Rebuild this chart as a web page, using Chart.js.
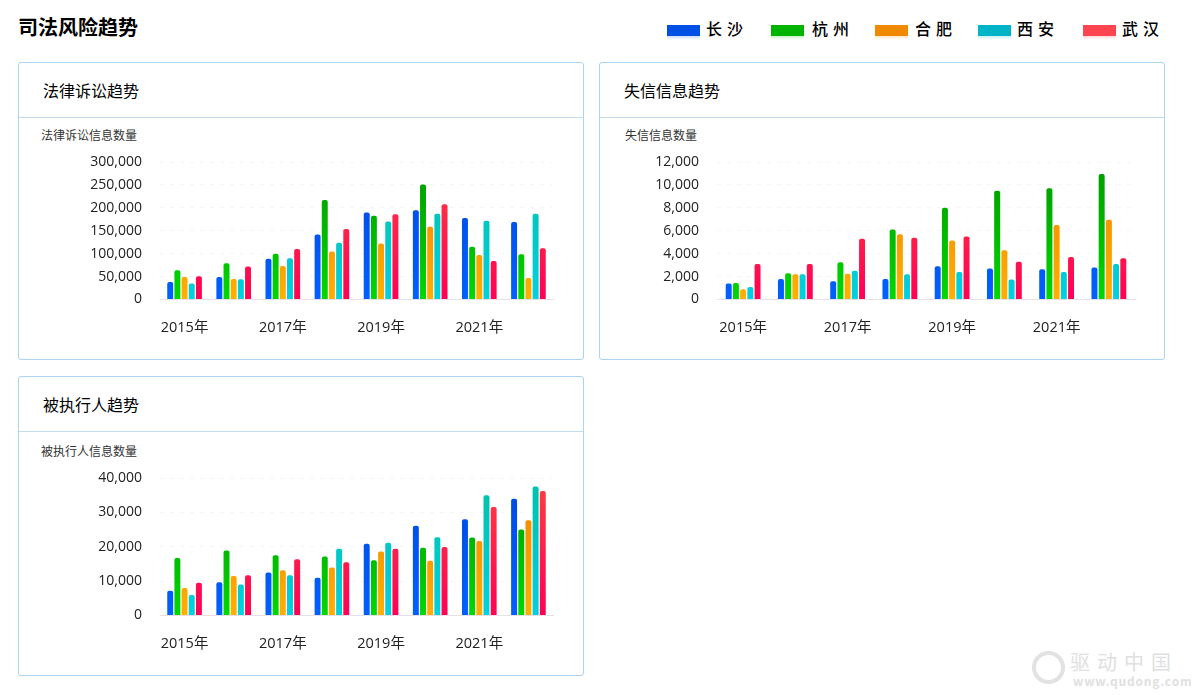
<!DOCTYPE html>
<html>
<head>
<meta charset="utf-8">
<script src="https://cdn.jsdelivr.net/npm/chart.js@4"></script>
<style>
  body { margin: 0; background: #fff; font-family: "Noto Sans CJK SC", sans-serif; }
  #page { position: relative; width: 1193px; height: 695px; overflow: hidden; }
  h1 { position: absolute; left: 18px; top: 13px; margin: 0; font-size: 20px; line-height: 28px; font-weight: 700; color: #000; }
  .card { position: absolute; width: 566px; box-sizing: border-box; border: 1px solid #a9d5f2; border-radius: 3px; }
  .card h2 { margin: 0; height: 54px; line-height: 54px; padding-left: 24px; font-size: 16px; font-weight: 400; color: #000; border-bottom: 1px solid #c3dcec; box-sizing: content-box; }
  .card .unit { position: absolute; top: 64px; font-size: 12px; line-height: 16px; color: #333; }
  .card canvas { position: absolute; left: 0; top: 55px; }
  .key { position: absolute; top: 18px; font-size: 16px; line-height: 20px; letter-spacing: 5px; font-weight: 500; color: #000; white-space: nowrap; }
  .swatch { position: absolute; top: 25px; width: 33px; height: 15px; }
  #mark { position: absolute; left: 1030px; top: 648px; width: 163px; height: 47px; color: #e0e0e0; }
  #mark b { position: absolute; left: 40px; top: 3px; font-size: 20px; font-weight: 400; line-height: 22px; letter-spacing: 7px; white-space: nowrap; }
  #mark span { position: absolute; left: 43px; top: 26px; font-size: 12px; font-weight: 700; line-height: 14px; letter-spacing: 0.8px; white-space: nowrap; }
  #mark i { position: absolute; left: 2px; top: 3px; width: 25px; height: 25px; border: 4px solid #e2e2e2; border-radius: 50%; }
</style>
</head>
<body>
<div id="page">
  <h1>司法风险趋势</h1>
  <div id="legend"></div>
  <div class="card" style="left:18px;top:62px;height:298px">
    <h2>法律诉讼趋势</h2>
    <div class="unit" style="left:22px">法律诉讼信息数量</div>
    <canvas id="lawsuit-chart"></canvas>
  </div>
  <div class="card" style="left:599px;top:62px;height:298px">
    <h2>失信信息趋势</h2>
    <div class="unit" style="left:25px">失信信息数量</div>
    <canvas id="dishonest-chart"></canvas>
  </div>
  <div class="card" style="left:18px;top:376px;height:300px">
    <h2>被执行人趋势</h2>
    <div class="unit" style="left:22px;top:66px">被执行人信息数量</div>
    <canvas id="executed-chart"></canvas>
  </div>
  <div id="mark"><i></i><b>驱动中国</b><span>www.qudong.com</span></div>
</div>
<script>
const years = ["2015年", "2016年", "2017年", "2018年", "2019年", "2020年", "2021年", "2022年"];
const cities = ["长沙", "杭州", "合肥", "西安", "武汉"];

// lawsuit counts, one list per city
const lawsuitChangsha = [38000, 49000, 89000, 142000, 190000, 195000, 178000, 169000];
const lawsuitHangzhou = [64000, 79000, 100000, 217000, 183000, 251000, 115000, 99000];
const lawsuitHefei = [49000, 45000, 73000, 105000, 122000, 159000, 97000, 47000];
const lawsuitXian = [35000, 44000, 90000, 124000, 170000, 187000, 172000, 187000];
const lawsuitWuhan = [51000, 72000, 110000, 154000, 186000, 208000, 84000, 112000];

// dishonesty records
const dishonestChangsha = [1400, 1800, 1600, 1800, 2900, 2700, 2650, 2800];
const dishonestHangzhou = [1450, 2300, 3250, 6100, 8000, 9500, 9700, 10950];
const dishonestHefei = [900, 2200, 2250, 5700, 5150, 4300, 6500, 6950];
const dishonestXian = [1100, 2200, 2500, 2200, 2400, 1750, 2400, 3100];
const dishonestWuhan = [3100, 3100, 5300, 5400, 5500, 3300, 3700, 3600];

// persons subject to enforcement
const executedChangsha = [7200, 9700, 12500, 11000, 20900, 26100, 28000, 34000];
const executedHangzhou = [16700, 18900, 17500, 17200, 16100, 19700, 22700, 25000];
const executedHefei = [8000, 11500, 13200, 14000, 18600, 15900, 21700, 27700];
const executedXian = [6000, 9000, 11700, 19400, 21200, 22800, 35000, 37500];
const executedWuhan = [9500, 11700, 16400, 15500, 19400, 19900, 31600, 36200];

// bar fills run top to bottom over the whole plot height
const barTopColors = ["#0048e0", "#009800", "#f08000", "#00c0a8", "#ff4040"];
const barBottomColors = ["#0060ff", "#00d800", "#ffb000", "#00d0e0", "#ff0055"];
const legendColors = ["#0050e6", "#00b400", "#f08800", "#00b4c8", "#ff4650"];
const legendSwatchX = [667, 771, 875, 978, 1083];
const legendTextX = [706, 812, 915, 1017, 1122];

cities.forEach((city, i) => {
  const swatch = document.createElement("div");
  swatch.className = "swatch";
  swatch.style.left = legendSwatchX[i] + "px";
  swatch.style.background =
    `linear-gradient(${legendColors[i]} 0, ${legendColors[i]} 11px, ${legendColors[i]}33 11px, #fff 15px)`;
  const key = document.createElement("div");
  key.className = "key";
  key.style.left = legendTextX[i] + "px";
  key.textContent = city;
  const legend = document.getElementById("legend");
  legend.appendChild(swatch);
  legend.appendChild(key);
});

function barFill(context, i) {
  const area = context.chart.chartArea;
  if (!area) return barBottomColors[i];
  const gradient = context.chart.ctx.createLinearGradient(0, area.top, 0, area.bottom);
  gradient.addColorStop(0, barTopColors[i]);
  gradient.addColorStop(1, barBottomColors[i]);
  return gradient;
}

function renderTrendChart(id, series, settings) {
  const ctx = document.getElementById(id);
  ctx.style.width = settings.width + "px";
  ctx.style.height = settings.height + "px";
  ctx.width = settings.width;
  ctx.height = settings.height;
  return new Chart(ctx, {
    type: "bar",
    data: {
      labels: years,
      datasets: series.map((values, i) => ({
        label: cities[i],
        data: values,
        backgroundColor: (context) => barFill(context, i),
        borderRadius: { topLeft: 2, topRight: 2 },
        borderSkipped: "bottom",
        barPercentage: 0.83,
        categoryPercentage: settings.categoryPercentage,
      })),
    },
    options: {
      responsive: false,
      animation: false,
      layout: { padding: { top: settings.top, right: settings.right, left: 0, bottom: 0 } },
      plugins: { legend: { display: false }, tooltip: { enabled: false } },
      scales: {
        x: {
          afterFit: (scale) => { scale.height = settings.bottom; },
          grid: { display: false },
          border: { color: "#e6e0e6" },
          ticks: {
            autoSkip: false,
            maxRotation: 0,
            padding: 12,
            color: "#222",
            font: { family: "'Open Sans', 'Noto Sans CJK SC'", size: 14.5 },
            callback(value, index) {
              return index % 2 === 0 ? this.getLabelForValue(value) : "";
            },
          },
        },
        y: {
          min: 0,
          max: settings.max,
          afterFit: (scale) => { scale.width = settings.left; },
          grid: { color: "rgba(0,0,0,0.035)", drawTicks: false, tickLength: 0 },
          border: { display: false, dash: [4, 6] },
          ticks: {
            stepSize: settings.step,
            padding: 18,
            color: "#222",
            font: { family: "'Open Sans'", size: 14 },
            callback: (value) => value.toLocaleString("en-US"),
          },
        },
      },
    },
  });
}

renderTrendChart(
  "lawsuit-chart",
  [lawsuitChangsha, lawsuitHangzhou, lawsuitHefei, lawsuitXian, lawsuitWuhan],
  { width: 564, height: 240, left: 141, right: 30, top: 44, bottom: 58.5, max: 300000, step: 50000, categoryPercentage: 0.73 }
);
renderTrendChart(
  "dishonest-chart",
  [dishonestChangsha, dishonestHangzhou, dishonestHefei, dishonestXian, dishonestWuhan],
  { width: 564, height: 240, left: 117, right: 29, top: 44, bottom: 58.5, max: 12000, step: 2000, categoryPercentage: 0.69 }
);
renderTrendChart(
  "executed-chart",
  [executedChangsha, executedHangzhou, executedHefei, executedXian, executedWuhan],
  { width: 564, height: 242, left: 141, right: 30, top: 46, bottom: 58.5, max: 40000, step: 10000, categoryPercentage: 0.73 }
);
</script>
</body>
</html>
